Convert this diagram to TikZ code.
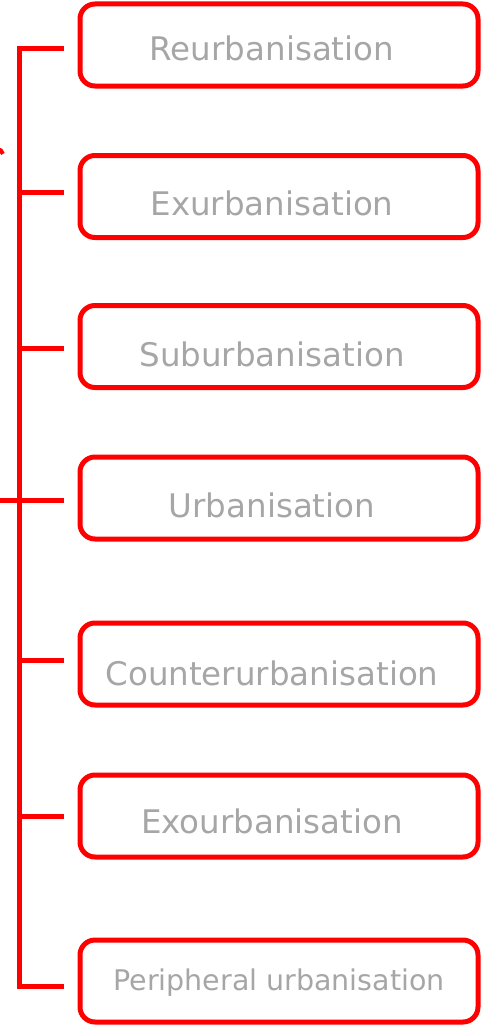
\documentclass[tikz,border=0pt]{standalone}
\usepackage{fontspec}
\setmainfont{DejaVu Sans}
\definecolor{boxred}{RGB}{255,0,0}
\definecolor{txtgrey}{RGB}{166,166,166}
\begin{document}
\begin{tikzpicture}[x=1pt,y=-1pt,
  box/.style={draw=boxred, line width=5pt, rounded corners=15pt, minimum width=398pt, minimum height=82pt, inner sep=0pt, outer sep=0pt},
  lbl/.style={text=txtgrey, font=\fontsize{32.5}{38}\selectfont, anchor=base, inner sep=0pt},
  lblsmall/.style={lbl, font=\fontsize{28.5}{34}\selectfont},
  conn/.style={draw=boxred, line width=5pt, line join=miter}]
\useasboundingbox (0,0) rectangle (490,1025);
% boxes
\node[box] (b1) at (279,45) {};
\node[box] (b2) at (279,196.5) {};
\node[box] (b3) at (279,346.5) {};
\node[box] (b4) at (279,498) {};
\node[box] (b5) at (279,664) {};
\node[box] (b6) at (279,816) {};
\node[box] (b7) at (279,981) {};
% labels
\node[lbl] (t1) at (272,61) {Reurbanisation};
\node[lbl] (t2) at (272,215) {Exurbanisation};
\node[lbl] (t3) at (272,366) {Suburbanisation};
\node[lbl] (t4) at (272,517) {Urbanisation};
\node[lbl] (t5) at (272,685) {Counterurbanisation};
\node[lbl] (t6) at (272,833) {Exourbanisation};
\node[lblsmall] (t7) at (279,990) {Peripheral urbanisation};
% bracket coordinates
\coordinate (s1) at (19,49);   \coordinate (e1) at (64,49);
\coordinate (s2) at (19,192);  \coordinate (e2) at (64,192);
\coordinate (s3) at (19,348);  \coordinate (e3) at (64,348);
\coordinate (s4) at (19,500);  \coordinate (e4) at (64,500);
\coordinate (s5) at (19,660);  \coordinate (e5) at (64,660);
\coordinate (s6) at (19,816);  \coordinate (e6) at (64,816);
\coordinate (s7) at (19,986);  \coordinate (e7) at (64,986);
\coordinate (in) at (0,500);
% bracket
\draw[conn] (e1) -- (s1) -- (s7) -- (e7);
\draw[conn] (s2) -- (e2);
\draw[conn] (s3) -- (e3);
\draw[conn] (in) -- (e4);
\draw[conn] (s5) -- (e5);
\draw[conn] (s6) -- (e6);
% cut-off fragment at left edge
\draw[boxred, line width=4pt] (-3,149) arc[start angle=-90, end angle=-10, radius=6];
\end{tikzpicture}
\end{document}
